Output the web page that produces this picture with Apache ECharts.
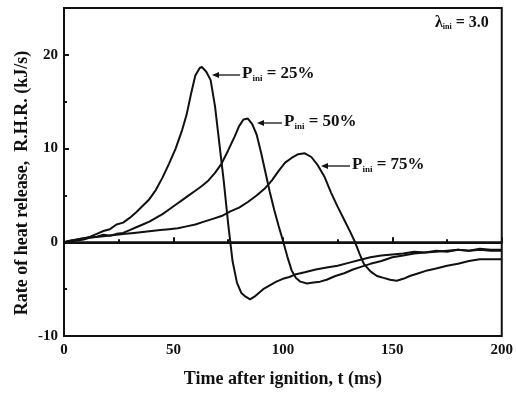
<!DOCTYPE html>
<html>
<head>
<meta charset="utf-8">
<script src="https://cdn.jsdelivr.net/npm/echarts@6/dist/echarts.min.js"></script>
<style>
  html, body { margin: 0; padding: 0; background: #fff; }
  #chart { width: 516px; height: 393px; }
</style>
</head>
<body>
<div id="chart"></div>
<script>
// values (t in ms, R.H.R. in kJ/s)
const t25 = [0, 3, 6, 9, 12, 15, 18, 21, 24, 27, 30, 33, 36, 39, 42, 45, 48, 51, 54, 56, 58, 60, 62, 63, 65, 67, 69, 71, 73, 75, 77, 79, 81, 83, 85, 87, 89, 91, 94, 97, 100, 103, 106, 110, 115, 120, 125, 130, 135, 140, 145, 150, 155, 160, 165, 170, 175, 180, 185, 190, 195, 200]
const v25 = [0, 0.2, 0.3, 0.4, 0.6, 0.9, 1.2, 1.4, 1.9, 2.1, 2.6, 3.2, 3.9, 4.6, 5.6, 6.9, 8.4, 10.0, 12.0, 13.6, 15.8, 17.8, 18.6, 18.7, 18.2, 17.3, 14.5, 10.5, 6.5, 2.0, -2.0, -4.3, -5.4, -5.8, -6.1, -5.8, -5.4, -5.0, -4.6, -4.2, -3.9, -3.7, -3.4, -3.2, -2.9, -2.7, -2.5, -2.2, -1.9, -1.6, -1.4, -1.3, -1.2, -1.0, -1.1, -0.9, -1.0, -0.8, -0.9, -0.8, -0.9, -0.9]

const t50 = [0, 3, 6, 9, 12, 15, 18, 21, 24, 27, 30, 33, 36, 39, 42, 45, 48, 51, 54, 57, 60, 63, 66, 69, 72, 75, 78, 80, 82, 84, 86, 88, 90, 92, 94, 96, 98, 100, 102, 104, 106, 108, 111, 114, 117, 120, 124, 128, 132, 136, 140, 145, 150, 155, 160, 165, 170, 175, 180, 185, 190, 195, 200]
const v50 = [0, 0.1, 0.2, 0.3, 0.5, 0.6, 0.8, 0.7, 0.9, 1.0, 1.3, 1.6, 1.9, 2.2, 2.6, 3.0, 3.5, 4.0, 4.5, 5.0, 5.5, 6.0, 6.6, 7.4, 8.4, 9.8, 11.3, 12.4, 13.1, 13.2, 12.6, 11.5, 9.6, 7.5, 5.4, 3.5, 1.8, 0.2, -1.5, -3.0, -3.8, -4.2, -4.4, -4.3, -4.2, -4.0, -3.6, -3.3, -2.9, -2.6, -2.3, -2.0, -1.6, -1.4, -1.2, -1.1, -1.0, -0.9, -0.8, -0.9, -0.7, -0.8, -0.8]

const t75 = [0, 4, 8, 12, 16, 20, 24, 28, 32, 36, 40, 44, 48, 52, 56, 60, 64, 68, 72, 76, 80, 84, 88, 92, 95, 98, 101, 104, 107, 110, 113, 116, 119, 122, 125, 128, 131, 133, 135, 137, 140, 143, 146, 149, 152, 155, 158, 162, 166, 170, 175, 180, 185, 190, 195, 200]
const v75 = [0, 0.2, 0.4, 0.5, 0.6, 0.7, 0.8, 0.9, 1.0, 1.1, 1.2, 1.3, 1.4, 1.5, 1.7, 1.9, 2.2, 2.5, 2.8, 3.3, 3.7, 4.3, 5.0, 5.8, 6.6, 7.6, 8.5, 9.0, 9.4, 9.5, 9.1, 8.2, 7.0, 5.3, 3.8, 2.4, 1.0, 0.0, -1.2, -2.3, -3.1, -3.6, -3.8, -4.0, -4.1, -3.9, -3.6, -3.3, -3.0, -2.8, -2.5, -2.3, -2.0, -1.8, -1.8, -1.8]

const xTicks = [0, 50, 100, 150, 200]
const yTicks = [-10, 0, 10, 20]

const font = 'Liberation Serif'
const ink = '#111'

const pairs = (ts, vs) => ts.map((t, i) => [t, vs[i]])

const lineSeries = (name, ts, vs) => ({
  name: name,
  type: 'line',
  data: pairs(ts, vs),
  showSymbol: false,
  smooth: false,
  lineStyle: { color: ink, width: 2 },
  z: 3
})

// left-pointing arrow with a label "P_ini = xx%"
const arrowLabel = (x1, x2, y, txt) => ({
  type: 'group',
  children: [
    { type: 'line', shape: { x1: x1 + 4, y1: y, x2: x2, y2: y }, style: { stroke: ink, lineWidth: 1.3 } },
    { type: 'polygon', shape: { points: [[x1, y], [x1 + 7, y - 3], [x1 + 7, y + 3]] }, style: { fill: ink } },
    {
      type: 'text', x: x2 + 2, y: y - 10,
      style: {
        text: '{p|P}{s|ini}{p| = ' + txt + '}',
        rich: {
          p: { fontFamily: font, fontWeight: 'bold', fontSize: 17, fill: ink },
          s: { fontFamily: font, fontWeight: 'bold', fontSize: 9, fill: ink, padding: [9, 0, 0, 0] }
        }
      }
    }
  ]
})

const chart = echarts.init(document.getElementById('chart'))

const option = {
  backgroundColor: '#fff',
  animation: false,
  grid: { left: 64, right: 13, top: 8, bottom: 57, show: true, borderColor: ink, borderWidth: 2 },
  xAxis: {
    type: 'value',
    min: xTicks[0],
    max: xTicks[xTicks.length - 1],
    interval: 50,
    name: 'Time after ignition, t (ms)',
    nameLocation: 'middle',
    nameGap: 34,
    nameTextStyle: { fontFamily: font, fontWeight: 'bold', fontSize: 18, color: ink },
    axisLine: { lineStyle: { color: ink, width: 2 } },
    axisTick: { inside: true, length: 5, lineStyle: { color: ink, width: 2 } },
    minorTick: { show: true, splitNumber: 2, length: 3, lineStyle: { color: ink, width: 2 } },
    axisLabel: { fontFamily: font, fontWeight: 'bold', fontSize: 15, color: ink, margin: 7 },
    splitLine: { show: false }
  },
  yAxis: {
    type: 'value',
    min: yTicks[0],
    max: 25,
    interval: 10,
    axisLine: { show: true, lineStyle: { color: ink, width: 2 } },
    axisTick: { inside: true, length: 5, lineStyle: { color: ink, width: 2 } },
    minorTick: { show: true, splitNumber: 2, length: 3, lineStyle: { color: ink, width: 2 } },
    axisLabel: { fontFamily: font, fontWeight: 'bold', fontSize: 15, color: ink, margin: 6, showMaxLabel: false },
    splitLine: { show: false }
  },
  series: [
    Object.assign(lineSeries('P25', t25, v25), {
      markLine: {
        silent: true,
        symbol: 'none',
        label: { show: false },
        lineStyle: { color: ink, width: 2.5, type: 'solid' },
        data: [{ yAxis: 0 }]
      }
    }),
    lineSeries('P50', t50, v50),
    lineSeries('P75', t75, v75)
  ],
  graphic: [
    {
      type: 'text', x: 22, y: 183, rotation: Math.PI / 2,
      style: {
        text: 'Rate of heat release,  R.H.R. (kJ/s)',
        fontFamily: font, fontWeight: 'bold', fontSize: 18, fill: ink,
        align: 'center', verticalAlign: 'middle'
      }
    },
    {
      type: 'text', x: 435, y: 14,
      style: {
        text: '{p|λ}{s|ini}{p| = 3.0}',
        rich: {
          p: { fontFamily: font, fontWeight: 'bold', fontSize: 16, fill: ink },
          s: { fontFamily: font, fontWeight: 'bold', fontSize: 8, fill: ink, padding: [9, 0, 0, 0] }
        }
      }
    },
    arrowLabel(212, 240, 75, '25%'),
    arrowLabel(257, 282, 123, '50%'),
    arrowLabel(321, 350, 166, '75%')
  ]
}

chart.setOption(option)
</script>
</body>
</html>
